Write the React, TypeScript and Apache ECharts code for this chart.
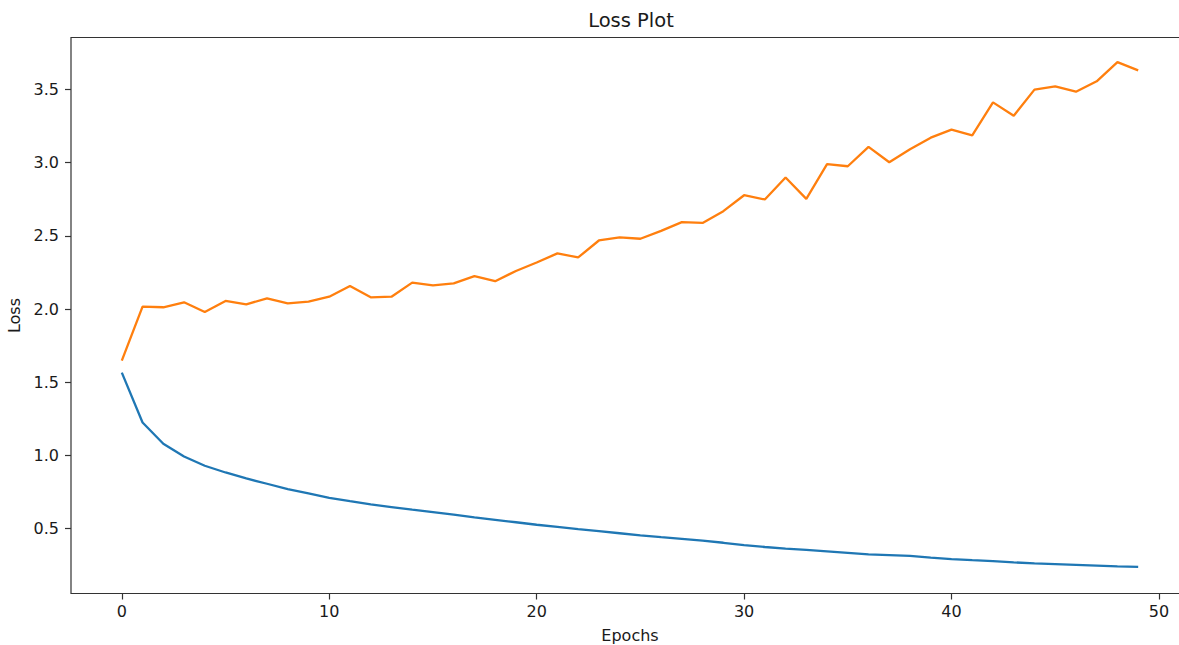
import React, { useEffect, useRef } from "react";
import * as echarts from "echarts";

const epochs = [
  0, 1, 2, 3, 4, 5, 6, 7, 8, 9, 10, 11, 12, 13, 14, 15, 16, 17, 18, 19, 20, 21, 22, 23, 24,
  25, 26, 27, 28, 29, 30, 31, 32, 33, 34, 35, 36, 37, 38, 39, 40, 41, 42, 43, 44, 45, 46, 47, 48, 49,
];

const trainLoss = [
  1.566, 1.225, 1.08, 0.993, 0.93, 0.884, 0.843, 0.807, 0.771, 0.741,
  0.711, 0.688, 0.666, 0.648, 0.63, 0.613, 0.596, 0.578, 0.561, 0.544,
  0.527, 0.512, 0.497, 0.483, 0.469, 0.455, 0.442, 0.43, 0.418, 0.404,
  0.388, 0.375, 0.364, 0.355, 0.345, 0.335, 0.325, 0.32, 0.314, 0.303,
  0.293, 0.285, 0.278, 0.27, 0.263, 0.258, 0.253, 0.248, 0.243, 0.239,
];

const valLoss = [
  1.648, 2.016, 2.012, 2.046, 1.98, 2.055, 2.032, 2.073, 2.039, 2.05,
  2.084, 2.157, 2.08, 2.084, 2.18, 2.161, 2.175, 2.225, 2.19, 2.26,
  2.318, 2.38, 2.352, 2.468, 2.489, 2.48, 2.534, 2.593, 2.588, 2.668,
  2.777, 2.748, 2.898, 2.752, 2.989, 2.975, 3.107, 3.002, 3.091, 3.17,
  3.225, 3.186, 3.411, 3.32, 3.498, 3.52, 3.484, 3.555, 3.686, 3.63,
];

const xTicks = [0, 10, 20, 30, 40, 50];
const yTicks = [0.5, 1.0, 1.5, 2.0, 2.5, 3.0, 3.5];

const FONT = "DejaVu Sans";
const TEXT = "#1a1a1a";
const SPINE = "#333333";

export default function App() {
  const ref = useRef<HTMLDivElement>(null);

  useEffect(() => {
    if (!ref.current) return;
    const chart = echarts.init(ref.current, undefined, { renderer: "svg" });
    chart.setOption({
      animation: false,
      backgroundColor: "#ffffff",
      graphic: [
        {
          type: "text",
          x: 631,
          y: 20,
          style: {
            text: "Loss Plot",
            font: `19.5px ${FONT}`,
            fill: TEXT,
            textAlign: "center",
            textVerticalAlign: "middle",
          },
        },
      ],
      grid: {
        left: 71,
        top: 37.5,
        width: 1118,
        height: 556,
        show: true,
        borderColor: SPINE,
        borderWidth: 1.2,
        backgroundColor: "transparent",
        outerBoundsMode: "none",
        containLabel: false,
      },
      xAxis: {
        type: "value",
        min: -2.45,
        max: 51.45,
        name: "Epochs",
        nameLocation: "middle",
        nameGap: 34,
        nameTextStyle: { fontFamily: FONT, fontSize: 16, color: TEXT },
        splitLine: { show: false },
        axisLine: { show: false, onZero: false },
        axisTick: {
          show: true,
          length: 6,
          lineStyle: { color: SPINE, width: 1.2 },
          customValues: xTicks,
        },
        axisLabel: {
          fontFamily: FONT,
          fontSize: 16,
          color: TEXT,
          margin: 10,
          customValues: xTicks,
          formatter: (v: number) => String(v),
        },
      },
      yAxis: {
        type: "value",
        min: 0.0576,
        max: 3.854,
        name: "Loss",
        nameLocation: "middle",
        nameGap: 48,
        nameRotate: 90,
        nameTextStyle: { fontFamily: FONT, fontSize: 16, color: TEXT },
        splitLine: { show: false },
        axisLine: { show: false, onZero: false },
        axisTick: {
          show: true,
          length: 6,
          lineStyle: { color: SPINE, width: 1.2 },
          customValues: yTicks,
        },
        axisLabel: {
          fontFamily: FONT,
          fontSize: 16,
          color: TEXT,
          margin: 12,
          customValues: yTicks,
          formatter: (v: number) => v.toFixed(1),
        },
      },
      series: [
        {
          name: "train",
          type: "line",
          data: epochs.map((e, i) => [e, trainLoss[i]]),
          showSymbol: false,
          symbol: "none",
          lineStyle: { color: "#1f77b4", width: 2.3 },
          itemStyle: { color: "#1f77b4" },
          z: 2,
        },
        {
          name: "val",
          type: "line",
          data: epochs.map((e, i) => [e, valLoss[i]]),
          showSymbol: false,
          symbol: "none",
          lineStyle: { color: "#ff7f0e", width: 2.3 },
          itemStyle: { color: "#ff7f0e" },
          z: 3,
        },
      ],
    });
    return () => chart.dispose();
  }, []);

  return (
    <div
      style={{
        position: "absolute",
        left: 0,
        top: 0,
        width: 1179,
        height: 645,
        overflow: "hidden",
        background: "#ffffff",
      }}
    >
      <div ref={ref} style={{ width: 1200, height: 645 }} />
    </div>
  );
}
